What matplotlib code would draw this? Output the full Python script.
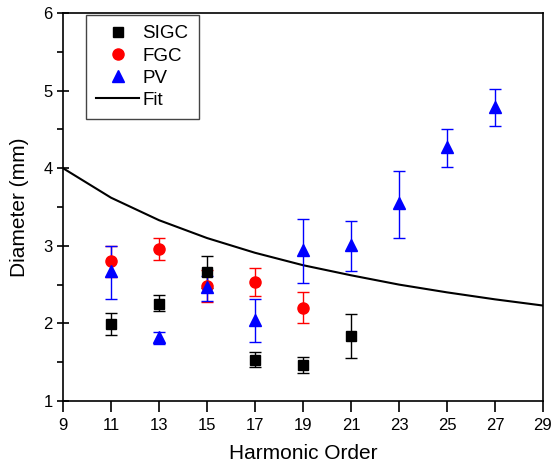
import matplotlib
matplotlib.use("Agg")
import matplotlib.pyplot as plt
from matplotlib.ticker import MultipleLocator, FixedLocator
from matplotlib.lines import Line2D

plt.rcParams['font.family'] = ['Liberation Sans', 'DejaVu Sans']

sigc_x = [11, 13, 15, 17, 19, 21]
sigc_y = [1.99, 2.25, 2.66, 1.53, 1.46, 1.84]
sigc_lo = [1.85, 2.16, 2.46, 1.44, 1.36, 1.56]
sigc_hi = [2.13, 2.36, 2.87, 1.63, 1.57, 2.12]

fgc_x = [11, 13, 15, 17, 19]
fgc_y = [2.80, 2.96, 2.48, 2.53, 2.20]
fgc_lo = [2.60, 2.82, 2.27, 2.35, 2.00]
fgc_hi = [3.00, 3.10, 2.69, 2.71, 2.40]

pv_x = [11, 13, 15, 17, 19, 21, 23, 25, 27]
pv_y = [2.67, 1.82, 2.47, 2.04, 2.95, 3.01, 3.55, 4.27, 4.79]
pv_lo = [2.31, 1.74, 2.29, 1.76, 2.52, 2.67, 3.10, 4.02, 4.54]
pv_hi = [3.00, 1.89, 2.61, 2.32, 3.35, 3.32, 3.97, 4.50, 5.02]

fit_x = [9, 11, 13, 15, 17, 19, 21, 23, 25, 27, 29]
fit_y = [4.00, 3.62, 3.33, 3.10, 2.91, 2.75, 2.62, 2.50, 2.40, 2.31, 2.23]

x_ticks = [9, 11, 13, 15, 17, 19, 21, 23, 25, 27, 29]

fig = plt.figure(figsize=(5.54, 4.70), dpi=100)
ax = fig.add_axes([63/554, 1 - 401/470, 480/554, 388/470])

def err(y, lo, hi):
    return [[a - b for a, b in zip(y, lo)], [c - a for a, c in zip(y, hi)]]

ax.errorbar(sigc_x, sigc_y, yerr=err(sigc_y, sigc_lo, sigc_hi), fmt='s', color='black',
            ms=7, capsize=4, elinewidth=1, capthick=1, zorder=3)
ax.errorbar(fgc_x, fgc_y, yerr=err(fgc_y, fgc_lo, fgc_hi), fmt='o', color='red',
            ms=8, capsize=4, elinewidth=1, capthick=1, zorder=3)
ax.errorbar(pv_x, pv_y, yerr=err(pv_y, pv_lo, pv_hi), fmt='^', color='blue',
            ms=9, capsize=4, elinewidth=1, capthick=1, zorder=3)
ax.plot(fit_x, fit_y, color='black', lw=1.5, zorder=2)

ax.set_xlim(9, 29)
ax.set_ylim(1, 6)
ax.xaxis.set_major_locator(FixedLocator(x_ticks))
ax.yaxis.set_major_locator(MultipleLocator(1))
ax.yaxis.set_minor_locator(MultipleLocator(0.5))
ax.tick_params(axis='x', which='major', direction='out', length=8, width=1.2, labelsize=12, pad=4)
ax.tick_params(axis='y', which='major', direction='inout', length=9, width=1.2, labelsize=12, pad=3)
ax.tick_params(axis='y', which='minor', direction='out', length=4, width=1.2)
ax.tick_params(top=False, right=False)
for s in ax.spines.values():
    s.set_linewidth(1.2)

ax.set_xlabel('Harmonic Order', fontsize=15, labelpad=8)
ax.set_ylabel('Diameter (mm)', fontsize=15, labelpad=10)

handles = [
    Line2D([], [], ls='none', marker='s', color='black', ms=7),
    Line2D([], [], ls='none', marker='o', color='red', ms=8),
    Line2D([], [], ls='none', marker='^', color='blue', ms=9),
    Line2D([], [], color='black', lw=1.5),
]
labels = ['SIGC', 'FGC', 'PV', 'Fit']
leg = ax.legend(handles, labels, loc='upper left', bbox_to_anchor=(23/480, 386/388), fontsize=13.5,
                frameon=True, fancybox=False, edgecolor='#444444', framealpha=1, borderaxespad=0,
                handlelength=2.3, borderpad=0.55, labelspacing=0.27, handletextpad=0.15)
leg.get_frame().set_linewidth(1)

fig.savefig('out.png', dpi=100)
